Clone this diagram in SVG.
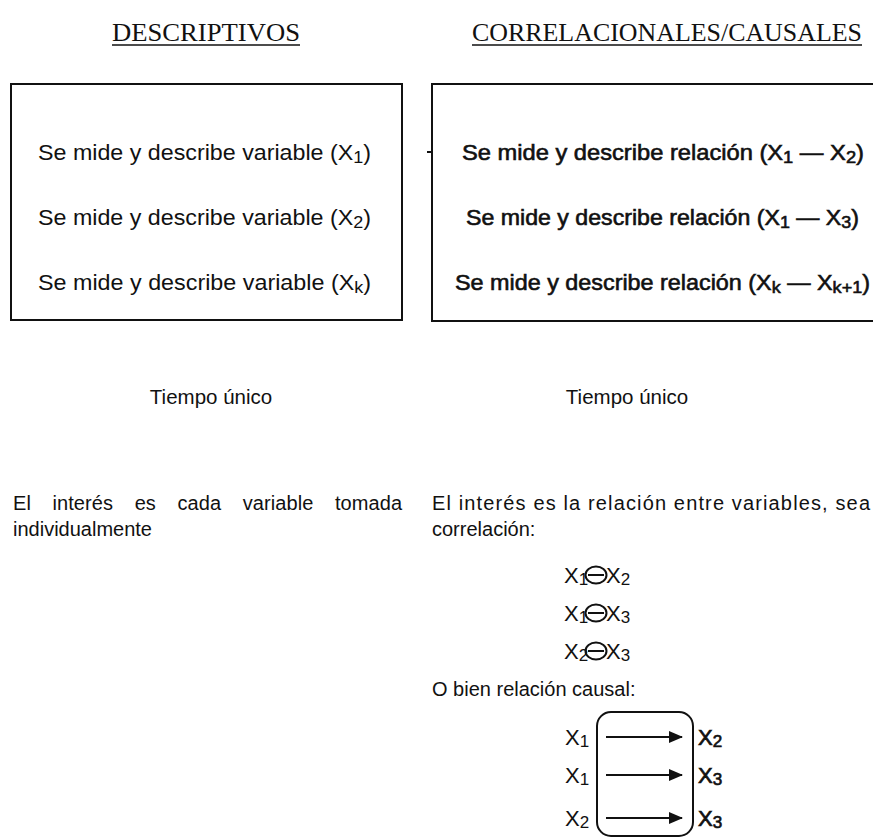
<svg xmlns="http://www.w3.org/2000/svg" width="873" height="837" viewBox="0 0 873 837">
<style>
.bg{fill:#fff}
.head{font-family:"Liberation Serif","Times New Roman",serif;font-size:26px;fill:#111}
.ul{stroke:#111;stroke-width:1.6}
.box{fill:none;stroke:#111;stroke-width:2}
.t{font-family:"Liberation Sans",Arial,sans-serif;font-size:22px;fill:#111}
.tb{font-family:"Liberation Sans",Arial,sans-serif;font-size:22px;fill:#111;stroke:#111;stroke-width:0.6}
.s{font-family:"Liberation Sans",Arial,sans-serif;font-size:20.5px;fill:#111}
.p{font-family:"Liberation Sans",Arial,sans-serif;font-size:20px;fill:#111}
.x{font-family:"Liberation Sans",Arial,sans-serif;font-size:22px;fill:#111}
.xb{font-family:"Liberation Sans",Arial,sans-serif;font-size:22px;fill:#111;stroke:#111;stroke-width:0.7}
.ln{stroke:#111;stroke-width:2;fill:none}
</style>
<defs>
<marker id="ah" viewBox="0 0 14 12" refX="13" refY="6" markerWidth="14" markerHeight="12" markerUnits="userSpaceOnUse" orient="auto">
<path d="M0,0 L14,6 L0,12 Z" fill="#111"/>
</marker>
</defs>
<rect class="bg" x="0" y="0" width="873" height="837"/>

<g id="head-descriptivos">
<text class="head" x="112" y="41" textLength="188" lengthAdjust="spacingAndGlyphs">DESCRIPTIVOS</text>
<line class="ul" x1="112" y1="45" x2="300" y2="45"/>
</g>
<g id="head-correlacionales">
<text class="head" x="472" y="41" textLength="390" lengthAdjust="spacingAndGlyphs">CORRELACIONALES/CAUSALES</text>
<line class="ul" x1="472" y1="45" x2="862" y2="45"/>
</g>

<g id="box-descriptivos">
<rect class="box" x="11" y="84" width="391" height="236"/>
<text class="t" x="38" y="160" textLength="333" lengthAdjust="spacingAndGlyphs">Se mide y describe variable (X<tspan font-size="17" dy="3">1</tspan><tspan dy="-3">)</tspan></text>
<text class="t" x="38" y="225" textLength="333" lengthAdjust="spacingAndGlyphs">Se mide y describe variable (X<tspan font-size="17" dy="3">2</tspan><tspan dy="-3">)</tspan></text>
<text class="t" x="38" y="290" textLength="333" lengthAdjust="spacingAndGlyphs">Se mide y describe variable (X<tspan font-size="17" dy="3">k</tspan><tspan dy="-3">)</tspan></text>
</g>

<g id="box-correlacionales">
<path class="box" d="M876,84 H432 V321 H876"/>
<line class="ln" x1="427" y1="152" x2="433" y2="152" stroke-width="1.5"/>
<text class="tb" x="462" y="160" textLength="402" lengthAdjust="spacingAndGlyphs">Se mide y describe relación (X<tspan font-size="17" dy="3">1</tspan><tspan dy="-3"> — X</tspan><tspan font-size="17" dy="3">2</tspan><tspan dy="-3">)</tspan></text>
<text class="tb" x="466" y="225" textLength="393" lengthAdjust="spacingAndGlyphs">Se mide y describe relación (X<tspan font-size="17" dy="3">1</tspan><tspan dy="-3"> — X</tspan><tspan font-size="17" dy="3">3</tspan><tspan dy="-3">)</tspan></text>
<text class="tb" x="455" y="290" textLength="415" lengthAdjust="spacingAndGlyphs">Se mide y describe relación (X<tspan font-size="17" dy="3">k</tspan><tspan dy="-3"> — X</tspan><tspan font-size="17" dy="3">k+1</tspan><tspan dy="-3">)</tspan></text>
</g>

<g id="tiempo-left">
<text class="s" x="211" y="404" text-anchor="middle">Tiempo único</text>
</g>
<g id="tiempo-right">
<text class="s" x="627" y="404" text-anchor="middle">Tiempo único</text>
</g>

<g id="interes-left">
<text class="p" x="13" y="510" textLength="389" lengthAdjust="spacing" word-spacing="16">El interés es cada variable tomada</text>
<text class="p" x="13" y="536">individualmente</text>
</g>

<g id="interes-right">
<text class="p" x="432" y="510" textLength="438" lengthAdjust="spacing">El interés es la relación entre variables, sea</text>
<text class="p" x="432" y="536">correlación:</text>
</g>

<g id="correlaciones">
<text class="x" x="564" y="583">X<tspan font-size="17" dy="2">1</tspan></text>
<ellipse class="ln" cx="596" cy="575" rx="10.5" ry="8.5"/>
<line class="ln" x1="588" y1="575" x2="604" y2="575"/>
<text class="x" x="606" y="583">X<tspan font-size="17" dy="2">2</tspan></text>

<text class="x" x="564" y="621">X<tspan font-size="17" dy="2">1</tspan></text>
<ellipse class="ln" cx="596" cy="613" rx="10.5" ry="8.5"/>
<line class="ln" x1="588" y1="613" x2="604" y2="613"/>
<text class="x" x="606" y="621">X<tspan font-size="17" dy="2">3</tspan></text>

<text class="x" x="564" y="659">X<tspan font-size="17" dy="2">2</tspan></text>
<ellipse class="ln" cx="596" cy="651" rx="10.5" ry="8.5"/>
<line class="ln" x1="588" y1="651" x2="604" y2="651"/>
<text class="x" x="606" y="659">X<tspan font-size="17" dy="2">3</tspan></text>
</g>

<g id="causal-label">
<text class="p" x="432" y="696">O bien relación causal:</text>
</g>

<g id="causal">
<rect class="box" x="597" y="712" width="96" height="124" rx="14"/>
<text class="x" x="565" y="745">X<tspan font-size="17" dy="2">1</tspan></text>
<text class="x" x="565" y="783">X<tspan font-size="17" dy="2">1</tspan></text>
<text class="x" x="565" y="826">X<tspan font-size="17" dy="2">2</tspan></text>
<text class="xb" x="698" y="745">X<tspan font-size="17" dy="2">2</tspan></text>
<text class="xb" x="698" y="783">X<tspan font-size="17" dy="2">3</tspan></text>
<text class="xb" x="698" y="826">X<tspan font-size="17" dy="2">3</tspan></text>
</g>

<g id="connectors">
<line class="ln" x1="606" y1="737" x2="682" y2="737" marker-end="url(#ah)"/>
<line class="ln" x1="606" y1="775" x2="682" y2="775" marker-end="url(#ah)"/>
<line class="ln" x1="606" y1="818" x2="682" y2="818" marker-end="url(#ah)"/>
</g>
</svg>
